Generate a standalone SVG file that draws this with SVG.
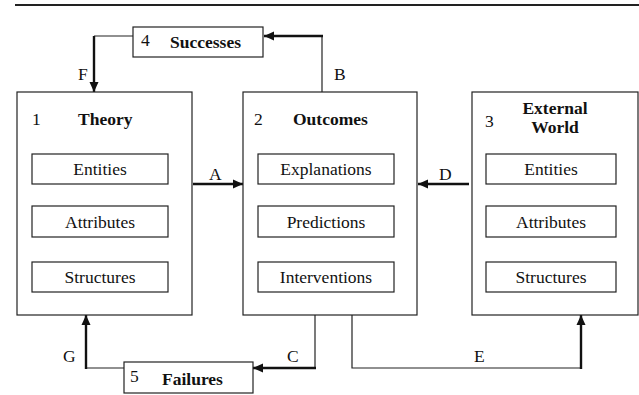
<svg xmlns="http://www.w3.org/2000/svg" width="639" height="395" viewBox="0 0 639 395">
<defs>
<style>
.box{fill:#fff;stroke:#222;stroke-width:1.2}
.t{font-family:"Liberation Serif","Times New Roman",serif;font-size:17.5px;fill:#111}
.b{font-weight:bold}
.c{text-anchor:middle}
.thin{fill:none;stroke:#222;stroke-width:1.2}
.thick{fill:none;stroke:#111;stroke-width:2.4}
</style>
<marker id="ah" markerUnits="userSpaceOnUse" markerWidth="10" markerHeight="10" viewBox="0 0 10 10" refX="10" refY="5" orient="auto">
<path d="M0,0.5 L10,5 L0,9.5 Z" fill="#111"/>
</marker>
</defs>
<rect width="639" height="395" fill="#fff"/>
<line x1="15" y1="5" x2="639" y2="5" stroke="#222" stroke-width="2"/>

<g id="connectors">
<path class="thin" d="M133,36 H94"/>
<path class="thick" d="M94,36 V92" marker-end="url(#ah)"/>
<text class="t" x="78" y="80">F</text>
<path class="thin" d="M322,92 V36"/>
<path class="thick" d="M323,36 H264" marker-end="url(#ah)"/>
<text class="t" x="334" y="80">B</text>
<path class="thick" d="M193,184 H243" marker-end="url(#ah)"/>
<text class="t" x="209" y="180">A</text>
<path class="thick" d="M469,184 H418" marker-end="url(#ah)"/>
<text class="t" x="439" y="180">D</text>
<path class="thin" d="M315,315 V368"/>
<path class="thick" d="M316,368 H253" marker-end="url(#ah)"/>
<text class="t" x="287" y="362">C</text>
<path class="thin" d="M124,368 H86"/>
<path class="thick" d="M86,369 V315" marker-end="url(#ah)"/>
<text class="t" x="63" y="362">G</text>
<path class="thin" d="M352,315 V368 H581"/>
<path class="thick" d="M581,369 V315" marker-end="url(#ah)"/>
<text class="t" x="474" y="362">E</text>
</g>

<g id="n4">
<rect class="box" x="133" y="27" width="130" height="30"/>
<text class="t" x="141" y="46">4</text>
<text class="t b" x="170" y="48">Successes</text>
</g>

<g id="n5">
<rect class="box" x="124" y="362" width="129" height="31"/>
<text class="t" x="130" y="382">5</text>
<text class="t b" x="162" y="385">Failures</text>
</g>

<g id="n1">
<rect class="box" x="17" y="92" width="175" height="223"/>
<text class="t" x="32" y="125">1</text>
<text class="t b" x="78" y="125">Theory</text>
<rect class="box" x="32" y="154" width="136" height="30"/>
<text class="t c" x="100" y="175">Entities</text>
<rect class="box" x="32" y="206" width="136" height="31"/>
<text class="t c" x="100" y="228">Attributes</text>
<rect class="box" x="32" y="262" width="136" height="30"/>
<text class="t c" x="100" y="283">Structures</text>
</g>

<g id="n2">
<rect class="box" x="243" y="92" width="174" height="223"/>
<text class="t" x="254" y="125">2</text>
<text class="t b" x="293" y="125">Outcomes</text>
<rect class="box" x="258" y="154" width="136" height="30"/>
<text class="t c" x="326" y="175">Explanations</text>
<rect class="box" x="258" y="206" width="136" height="31"/>
<text class="t c" x="326" y="228">Predictions</text>
<rect class="box" x="258" y="262" width="136" height="30"/>
<text class="t c" x="326" y="283">Interventions</text>
</g>

<g id="n3">
<rect class="box" x="472" y="92" width="166" height="223"/>
<text class="t" x="485" y="127">3</text>
<text class="t b c" x="555" y="114">External</text>
<text class="t b c" x="555" y="133">World</text>
<rect class="box" x="486" y="154" width="130" height="30"/>
<text class="t c" x="551" y="175">Entities</text>
<rect class="box" x="486" y="206" width="130" height="31"/>
<text class="t c" x="551" y="228">Attributes</text>
<rect class="box" x="486" y="262" width="130" height="30"/>
<text class="t c" x="551" y="283">Structures</text>
</g>
</svg>
